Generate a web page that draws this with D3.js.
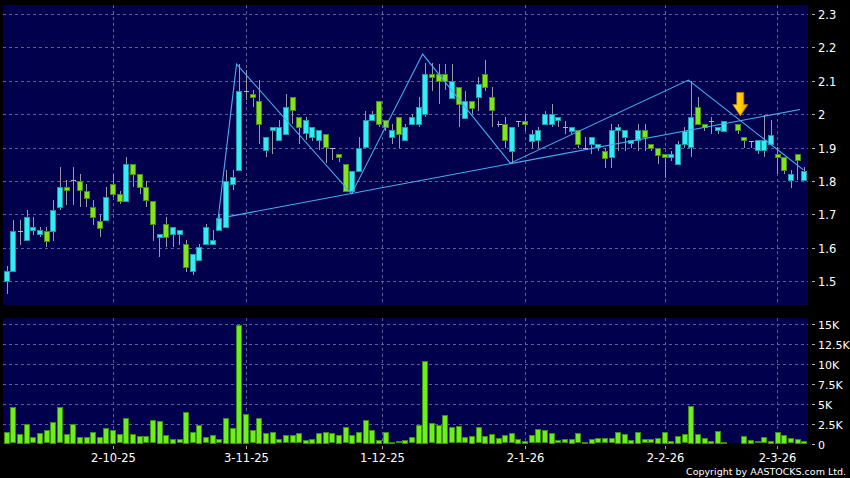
<!DOCTYPE html>
<html><head><meta charset="utf-8">
<script src="https://cdn.jsdelivr.net/npm/d3@7"></script>
<style>
html,body{margin:0;padding:0;background:#000;}
svg{display:block;}
text{font-family:"DejaVu Sans",Verdana,sans-serif;}
</style></head><body>
<svg id="c" width="850" height="478"></svg>
<script>
// ---------- data ----------
const opens  = [1.50,1.53,1.651,1.621,1.651,1.641,1.651,1.651,1.721,1.781,1.803,1.80,1.771,1.721,1.681,1.681,1.791,1.761,1.741,1.851,1.821,1.781,1.741,1.631,1.671,1.641,1.641,1.611,1.531,1.561,1.611,1.611,1.653,1.663,1.791,1.833,2.07,2.06,2.04,1.893,1.951,1.921,1.941,2.05,1.991,1.941,1.931,1.921,1.941,1.90,1.881,1.851,1.771,1.831,1.90,1.981,2.04,1.981,1.931,1.991,1.921,1.97,1.97,2.0,2.12,2.12,2.12,2.05,2.08,1.99,2.04,2.05,2.12,2.05,1.97,1.97,1.89,1.98,1.98,1.921,1.921,1.97,1.97,1.98,1.961,1.95,1.951,1.90,1.91,1.90,1.89,1.871,1.951,1.931,1.911,1.921,1.951,1.911,1.90,1.88,1.87,1.851,1.91,1.90,2.02,1.97,1.98,1.951,1.951,null,1.97,1.931,1.92,1.89,1.893,1.91,1.88,1.871,1.803,1.88,1.803];
const highs  = [1.545,1.683,1.683,1.713,1.693,1.661,1.661,1.743,1.843,1.803,1.843,1.821,1.791,1.743,1.70,1.781,1.821,1.771,1.873,1.851,1.821,1.80,1.741,1.64,1.691,1.661,1.653,1.623,1.581,1.611,1.67,1.653,1.70,1.833,1.833,2.15,2.132,2.072,2.102,1.931,1.961,1.983,2.06,2.05,1.991,1.991,1.961,1.951,1.941,1.90,1.881,1.851,1.831,1.931,2.01,2.01,2.04,1.981,1.97,1.991,1.97,2.0,2.05,2.152,2.152,2.15,2.15,2.15,2.08,2.07,2.04,2.11,2.162,2.08,1.98,1.991,1.961,1.98,2.0,1.953,1.961,2.01,2.03,1.99,1.98,1.961,1.951,1.93,1.931,1.91,1.90,1.97,1.97,1.951,1.921,1.97,1.97,1.911,1.90,1.88,1.89,1.92,1.96,2.10,2.05,1.97,1.99,1.961,1.98,null,1.97,1.931,1.92,1.921,1.997,1.982,1.902,1.871,1.833,1.88,1.843];
const lows   = [1.46,1.53,1.608,1.621,1.638,1.631,1.601,1.621,1.713,1.728,1.728,1.721,1.721,1.668,1.631,1.681,1.751,1.731,1.741,1.781,1.761,1.721,1.621,1.571,1.601,1.601,1.608,1.528,1.518,1.561,1.611,1.611,1.65,1.66,1.773,1.833,2.042,2.02,1.91,1.871,1.881,1.921,1.941,1.97,1.91,1.923,1.92,1.893,1.853,1.863,1.858,1.771,1.761,1.831,1.90,1.981,1.961,1.95,1.91,1.90,1.921,1.97,1.961,1.99,2.07,2.03,2.072,2.05,1.961,1.99,2.0,2.01,2.07,1.961,1.96,1.90,1.853,1.96,1.95,1.90,1.90,1.97,1.961,1.96,1.941,1.941,1.90,1.90,1.88,1.89,1.84,1.84,1.89,1.89,1.90,1.89,1.89,1.89,1.85,1.81,1.86,1.85,1.90,1.871,1.97,1.95,1.94,1.94,1.951,null,1.94,1.90,1.90,1.88,1.872,1.91,1.821,1.82,1.78,1.803,1.803];
const closes = [1.53,1.651,1.651,1.691,1.661,1.653,1.621,1.713,1.781,1.773,1.803,1.773,1.751,1.691,1.661,1.751,1.761,1.741,1.851,1.821,1.781,1.741,1.671,1.64,1.631,1.661,1.653,1.541,1.581,1.601,1.661,1.623,1.688,1.80,1.811,2.07,2.07,2.05,1.97,1.931,1.961,1.961,2.021,2.01,1.961,1.981,1.961,1.951,1.901,1.90,1.871,1.771,1.831,1.90,1.981,2.0,1.97,1.961,1.951,1.941,1.961,1.991,2.02,2.12,2.11,2.10,2.10,2.10,2.03,2.04,2.02,2.09,2.08,2.01,1.97,1.921,1.961,1.98,1.97,1.941,1.951,2.0,2.0,1.99,1.961,1.961,1.91,1.90,1.931,1.91,1.87,1.951,1.961,1.951,1.921,1.951,1.931,1.90,1.88,1.871,1.88,1.911,1.95,1.99,1.97,1.961,1.98,1.961,1.98,null,1.951,1.921,1.92,1.921,1.922,1.937,1.872,1.833,1.821,1.862,1.831];
const volumes = [1460,4540,1210,2460,790,1330,1670,2710,4540,1210,2460,830,830,1460,830,2000,1750,1170,3210,1210,1000,920,2920,2830,1120,580,540,4000,1420,2370,790,1080,540,3210,1960,14900,3710,1670,3210,1330,1500,540,1060,1060,1290,440,580,1350,1500,1270,1120,2020,1100,1440,2960,1750,440,1500,230,300,480,770,2330,10400,2560,2350,3625,2040,2170,810,980,2060,960,1230,750,1060,1270,580,330,1060,1770,1690,1350,380,540,580,1290,210,580,670,670,670,1460,1250,500,1460,540,540,750,1500,375,960,1170,4750,1210,750,330,1625,250,0,20,1000,460,290,790,375,1500,1080,670,580,330];
const dateTickIndex  = [16, 36, 56.5, 78, 99, 116];
const dateTickLabels = ["2-10-25","3-11-25","1-12-25","2-1-26","2-2-26","2-3-26"];
const priceTicks = [1.5,1.6,1.7,1.8,1.9,2.0,2.1,2.2,2.3];
const priceTickLabels = ["1.5","1.6","1.7","1.8","1.9","2","2.1","2.2","2.3"];
const volTicks = [0,2500,5000,7500,10000,12500,15000];
const volTickLabels = ["0","2.5K","5K","7.5K","10K","12.5K","15K"];
// drawn trend lines (bar index, price)
const supportLine = [[33.36,1.693],[119.4,2.014]];
const zigzagLine  = [[31.7,1.665],[34.6,2.150],[51.9,1.761],[62.6,2.180],[75.8,1.853],[102.6,2.102],[119.9,1.833]];
const arrowAt = {index:110.4, top:2.065, bottom:1.995};

// ---------- layout ----------
const W=850,H=478;
const L=3.3,R=807.4;
const mainTop=5,mainBot=305,volTop=318,volBot=443.5;
const svg=d3.select("#c");
svg.append("rect").attr("width",W).attr("height",H).attr("fill","#000");

const n=closes.length;
const x=d3.scaleBand().domain(d3.range(n)).range([L,R]).paddingInner(0.14).paddingOuter(0.07);
const xc=d3.scaleLinear().domain([-0.5,n-0.5]).range([L,R]);
const y=d3.scaleLinear().domain([1.5,2.3]).range([281,14]);
const yv=d3.scaleLinear().domain([0,15000]).range([volBot,324]);

const BG="#00004c",GRID="#5e5e96";
svg.append("rect").attr("x",3).attr("y",mainTop).attr("width",805).attr("height",mainBot-mainTop).attr("fill",BG);
svg.append("rect").attr("x",3).attr("y",volTop).attr("width",805).attr("height",volBot-volTop).attr("fill",BG);

// grids
const g=svg.append("g").attr("stroke",GRID).attr("stroke-width",1).attr("stroke-dasharray","3,3").attr("shape-rendering","crispEdges");
priceTicks.forEach(p=>g.append("line").attr("x1",3).attr("x2",808).attr("y1",Math.round(y(p))+0.5).attr("y2",Math.round(y(p))+0.5));
volTicks.slice(1).forEach(v=>g.append("line").attr("x1",3).attr("x2",808).attr("y1",Math.round(yv(v))+0.5).attr("y2",Math.round(yv(v))+0.5));
dateTickIndex.forEach(i=>{
  const xx=Math.round(xc(i))+0.5;
  g.append("line").attr("x1",xx).attr("x2",xx).attr("y1",mainTop).attr("y2",mainBot);
  g.append("line").attr("x1",xx).attr("x2",xx).attr("y1",volTop).attr("y2",volBot);
});

// candles
const bw=x.bandwidth();
const cg=svg.append("g").attr("shape-rendering","crispEdges");
for(let i=0;i<n;i++){
  if(closes[i]==null) continue;
  const cx=Math.round(xc(i))+0.5;
  cg.append("line").attr("x1",cx).attr("x2",cx).attr("y1",y(highs[i])).attr("y2",y(lows[i])).attr("stroke","#9a9aa6").attr("stroke-width",1);
  const o=opens[i],c=closes[i];
  const x0=Math.round(x(i))+0.5;
  if(Math.abs(o-c)<0.0015){
    cg.append("line").attr("x1",x0).attr("x2",x0+bw).attr("y1",Math.round(y(c))+0.5).attr("y2",Math.round(y(c))+0.5).attr("stroke","#b4b4c0");
  } else {
    const up=c>o;
    const top=y(Math.max(o,c)),bot=y(Math.min(o,c));
    cg.append("rect").attr("x",x0).attr("y",Math.round(top)+0.5).attr("width",bw-1).attr("height",Math.max(1,Math.round(bot-top)))
      .attr("fill",up?"#33ecf6":"#80e41e").attr("stroke",up?"#1f9aa6":"#4e8c16").attr("stroke-width",1);
  }
}

// volume bars
const vg=svg.append("g").attr("shape-rendering","crispEdges");
volumes.forEach((v,i)=>{
  if(v<=0) return;
  const top=yv(v);
  vg.append("rect").attr("x",Math.round(x(i))+0.5).attr("y",Math.round(top)+0.5).attr("width",bw-1).attr("height",Math.max(0,Math.round(volBot-top)-1))
    .attr("fill","#6cf01c").attr("stroke","#3c8c10").attr("stroke-width",1);
});

// trend lines
const line=d3.line().x(d=>xc(d[0])).y(d=>y(d[1]));
svg.append("path").attr("d",line(supportLine)).attr("fill","none").attr("stroke","#4aaef0").attr("stroke-width",1.1);
svg.append("path").attr("d",line(zigzagLine)).attr("fill","none").attr("stroke","#4aaef0").attr("stroke-width",1.1);

// arrow
const ax=xc(arrowAt.index),at=y(arrowAt.top),ab=y(arrowAt.bottom);
const defs=svg.append("defs");
const gr=defs.append("linearGradient").attr("id","ag").attr("x1",0).attr("x2",1).attr("y1",0).attr("y2",0);
gr.append("stop").attr("offset","0").attr("stop-color","#ffe34a");
gr.append("stop").attr("offset","0.5").attr("stop-color","#ffd000");
gr.append("stop").attr("offset","1").attr("stop-color","#e09a00");
const hh=(ab-at)*0.48;
svg.append("path").attr("d",`M${ax-3.5},${at} L${ax+3.5},${at} L${ax+3.5},${ab-hh} L${ax+7.5},${ab-hh} L${ax},${ab} L${ax-7.5},${ab-hh} L${ax-3.5},${ab-hh} Z`)
  .attr("fill","url(#ag)").attr("stroke","#c07a00").attr("stroke-width",0.8);

// price axis (right)
const ya=svg.append("g").attr("transform","translate(812,0)");
priceTicks.forEach((p,k)=>{
  const yy=Math.round(y(p))+0.5;
  ya.append("line").attr("x1",0).attr("x2",3).attr("y1",yy).attr("y2",yy).attr("stroke","#aaa");
  ya.append("text").attr("x",6).attr("y",yy+4).attr("fill","#fff").attr("font-size",11.5).text(priceTickLabels[k]);
});
const va=svg.append("g").attr("transform","translate(812,0)");
volTicks.forEach((v,k)=>{
  const yy=Math.round(yv(v))+0.5;
  va.append("line").attr("x1",0).attr("x2",3).attr("y1",yy).attr("y2",yy).attr("stroke","#aaa");
  va.append("text").attr("x",6).attr("y",yy+4).attr("fill","#fff").attr("font-size",11).text(volTickLabels[k]);
});

// date axis
const xa=svg.append("g");
dateTickIndex.forEach((i,k)=>{
  const xx=Math.round(xc(i))+0.5;
  xa.append("line").attr("x1",xx).attr("x2",xx).attr("y1",446).attr("y2",449).attr("stroke","#aaa");
  xa.append("text").attr("x",xx).attr("y",462).attr("text-anchor","middle").attr("fill","#fff").attr("font-size",11.5).text(dateTickLabels[k]);
});

svg.append("text").attr("x",846).attr("y",475).attr("text-anchor","end").attr("fill","#fff").attr("font-size",9.5).text("Copyright by AASTOCKS.com Ltd.");
</script>
</body></html>
